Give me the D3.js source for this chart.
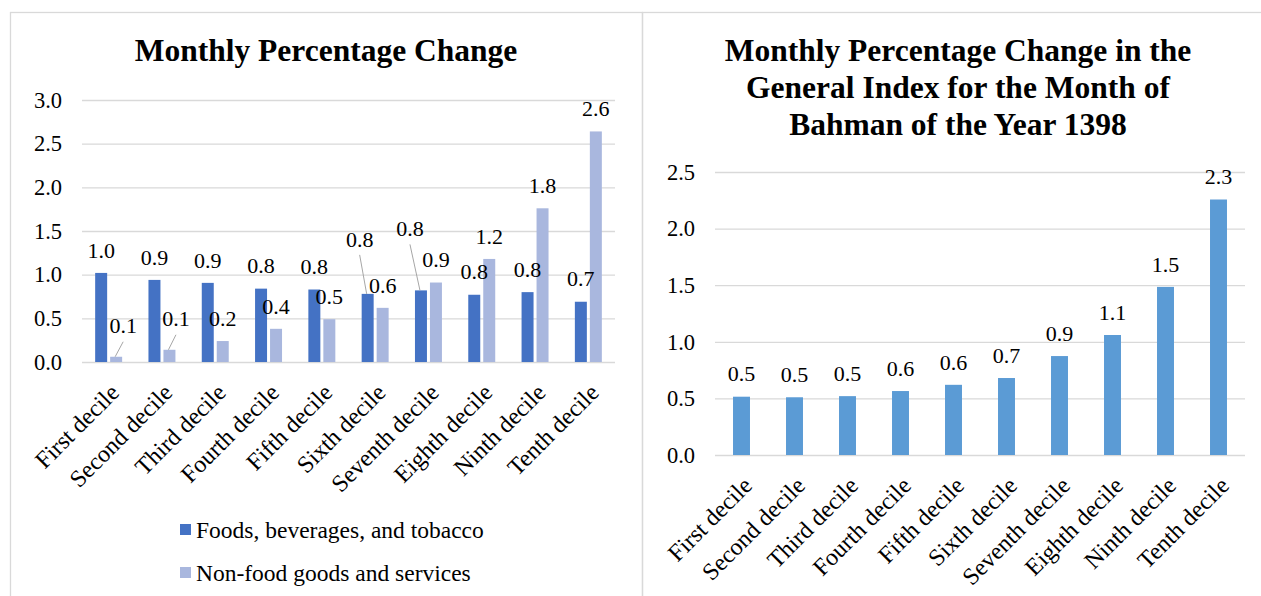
<!DOCTYPE html>
<html>
<head>
<meta charset="utf-8">
<script src="https://cdn.jsdelivr.net/npm/d3@7"></script>
<style>
  html, body { margin: 0; padding: 0; background: #fff; }
  svg { display: block; font-family: "Liberation Serif", "Times New Roman", serif; }
</style>
</head>
<body>
<div id="chart"></div>
<script>
const deciles = [
  "First decile", "Second decile", "Third decile", "Fourth decile", "Fifth decile",
  "Sixth decile", "Seventh decile", "Eighth decile", "Ninth decile", "Tenth decile",
];
const foodValues = [1.02, 0.94, 0.906, 0.84, 0.83, 0.78, 0.82, 0.77, 0.8, 0.69];
const nonFoodValues = [0.06, 0.14, 0.24, 0.38, 0.49, 0.62, 0.91, 1.18, 1.76, 2.64];
const generalValues = [0.515, 0.51, 0.52, 0.565, 0.62, 0.68, 0.874, 1.06, 1.485, 2.257];
const leftTicks = [0, 0.5, 1, 1.5, 2, 2.5, 3];
const rightTicks = [0, 0.5, 1, 1.5, 2, 2.5];
const seriesNames = ["Foods, beverages, and tobacco", "Non-food goods and services"];
const seriesColors = ["#4472c4", "#a9b7de"];
const leftTitle = ["Monthly Percentage Change"];
const rightTitle = [
  "Monthly Percentage Change in the",
  "General Index for the Month of",
  "Bahman of the Year 1398",
];

// Excel moved a few labels off the bars and tied them back with leader lines
const labelNudges = [
  { series: 1, index: 0, dx: 7, dy: -8 },
  { series: 1, index: 1, dx: 6.5, dy: -8 },
  { series: 0, index: 5, dx: -8, dy: -32 },
  { series: 0, index: 6, dx: -11, dy: -39 },
];

const width = 1261;
const height = 596;
const fmt = d3.format(".1f");
const gridColor = "#d9d9d9";

const svg = d3
  .select("#chart")
  .append("svg")
  .attr("width", width)
  .attr("height", height)
  .attr("viewBox", [0, 0, width, height]);

// panel frames
svg.append("rect")
  .attr("x", 10.5).attr("y", 12.5).attr("width", 632).attr("height", 620)
  .attr("fill", "none").attr("stroke", gridColor).attr("stroke-width", 1.3);
svg.append("rect")
  .attr("x", 642.5).attr("y", 12.5).attr("width", 640).attr("height", 620)
  .attr("fill", "none").attr("stroke", gridColor).attr("stroke-width", 1.3);

function drawTitle(lines, cx, y0) {
  svg.append("text")
    .attr("text-anchor", "middle")
    .style("font-size", "31.5px")
    .style("font-weight", "700")
    .selectAll("tspan")
    .data(lines)
    .join("tspan")
    .attr("x", cx)
    .attr("y", (d, i) => y0 + i * 37)
    .text((d) => d);
}

function drawYAxis(yScale, ticks, x0, x1) {
  svg.append("g")
    .attr("transform", `translate(${x0},0)`)
    .call(d3.axisLeft(yScale).tickValues(ticks).tickSize(-(x1 - x0)).tickPadding(20).tickFormat(fmt))
    .attr("font-family", null)
    .attr("font-size", null)
    .call((axis) => axis.select(".domain").remove())
    .call((axis) => axis.selectAll(".tick line").attr("stroke", gridColor).attr("stroke-width", 1.3))
    .call((axis) => axis.selectAll(".tick text").attr("fill", "#000").style("font-size", "22.5px"));
}

function drawXAxis(xScale, y0) {
  svg.append("g")
    .attr("transform", `translate(0,${y0})`)
    .call(d3.axisBottom(xScale).tickSize(0))
    .attr("font-family", null)
    .attr("font-size", null)
    .call((axis) => axis.select(".domain").remove())
    .call((axis) =>
      axis.selectAll(".tick text")
        .attr("fill", "#000")
        .attr("x", 0)
        .attr("y", 0)
        .attr("dy", "0.35em")
        .attr("text-anchor", "end")
        .attr("transform", "translate(6,26) rotate(-45)")
        .style("font-size", "24px"),
    );
}

// ---- left panel: food vs non-food by decile ----
const leftPlot = { left: 82, right: 615, top: 100, bottom: 362 };

const xLeft = d3
  .scaleBand()
  .domain(deciles)
  .range([leftPlot.left, leftPlot.right])
  .paddingInner(0.494)
  .paddingOuter(0.247);

const xSeries = d3
  .scaleBand()
  .domain([0, 1])
  .range([0, xLeft.bandwidth()])
  .paddingInner(0.2);

const yLeft = d3.scaleLinear().domain([0, 3]).range([leftPlot.bottom, leftPlot.top]);

drawTitle(leftTitle, 326, 61);
drawYAxis(yLeft, leftTicks, leftPlot.left, leftPlot.right);

const leftSeries = [foodValues, nonFoodValues];

leftSeries.forEach((values, s) => {
  svg.append("g")
    .selectAll("rect")
    .data(values)
    .join("rect")
    .attr("x", (d, i) => xLeft(deciles[i]) + xSeries(s))
    .attr("y", (d) => yLeft(d))
    .attr("width", xSeries.bandwidth())
    .attr("height", (d) => yLeft(0) - yLeft(d))
    .attr("fill", seriesColors[s]);
});

leftSeries.forEach((values, s) => {
  values.forEach((value, i) => {
    const barX = xLeft(deciles[i]) + xSeries(s) + xSeries.bandwidth() / 2;
    const barTop = yLeft(value);
    const nudge = labelNudges.find((n) => n.series === s && n.index === i);
    const lx = barX + (nudge ? nudge.dx : 0);
    const ly = barTop - 23 + (nudge ? nudge.dy : 0);

    if (nudge) {
      svg.append("line")
        .attr("x1", lx)
        .attr("y1", ly + 16)
        .attr("x2", barX - 1)
        .attr("y2", barTop)
        .attr("stroke", "#a6a6a6")
        .attr("stroke-width", 1);
    }

    svg.append("text")
      .attr("x", lx)
      .attr("y", ly)
      .attr("dy", "0.35em")
      .attr("text-anchor", "middle")
      .style("font-size", "22px")
      .text(fmt(value));
  });
});

drawXAxis(xLeft, leftPlot.bottom);

const legend = svg
  .append("g")
  .selectAll("g")
  .data(seriesNames)
  .join("g")
  .attr("transform", (d, i) => `translate(180,${530 + i * 43})`);

legend.append("rect")
  .attr("x", 0).attr("y", -6).attr("width", 11).attr("height", 11)
  .attr("fill", (d, i) => seriesColors[i]);

legend.append("text")
  .attr("x", 16)
  .attr("dy", "0.35em")
  .style("font-size", "23.5px")
  .text((d) => d);

// ---- right panel: general index by decile ----
const rightPlot = { left: 715, right: 1245, top: 172, bottom: 455 };

const xRight = d3
  .scaleBand()
  .domain(deciles)
  .range([rightPlot.left, rightPlot.right])
  .paddingInner(0.68)
  .paddingOuter(0.34);

const yRight = d3.scaleLinear().domain([0, 2.5]).range([rightPlot.bottom, rightPlot.top]);

drawTitle(rightTitle, 958, 61);
drawYAxis(yRight, rightTicks, rightPlot.left, rightPlot.right);

svg.append("g")
  .selectAll("rect")
  .data(generalValues)
  .join("rect")
  .attr("x", (d, i) => xRight(deciles[i]))
  .attr("y", (d) => yRight(d))
  .attr("width", xRight.bandwidth())
  .attr("height", (d) => yRight(0) - yRight(d))
  .attr("fill", "#5b9bd5");

svg.append("g")
  .selectAll("text")
  .data(generalValues)
  .join("text")
  .attr("x", (d, i) => xRight(deciles[i]) + xRight.bandwidth() / 2)
  .attr("y", (d) => yRight(d) - 23)
  .attr("dy", "0.35em")
  .attr("text-anchor", "middle")
  .style("font-size", "22px")
  .text((d) => fmt(d));

drawXAxis(xRight, rightPlot.bottom);
</script>
</body>
</html>
